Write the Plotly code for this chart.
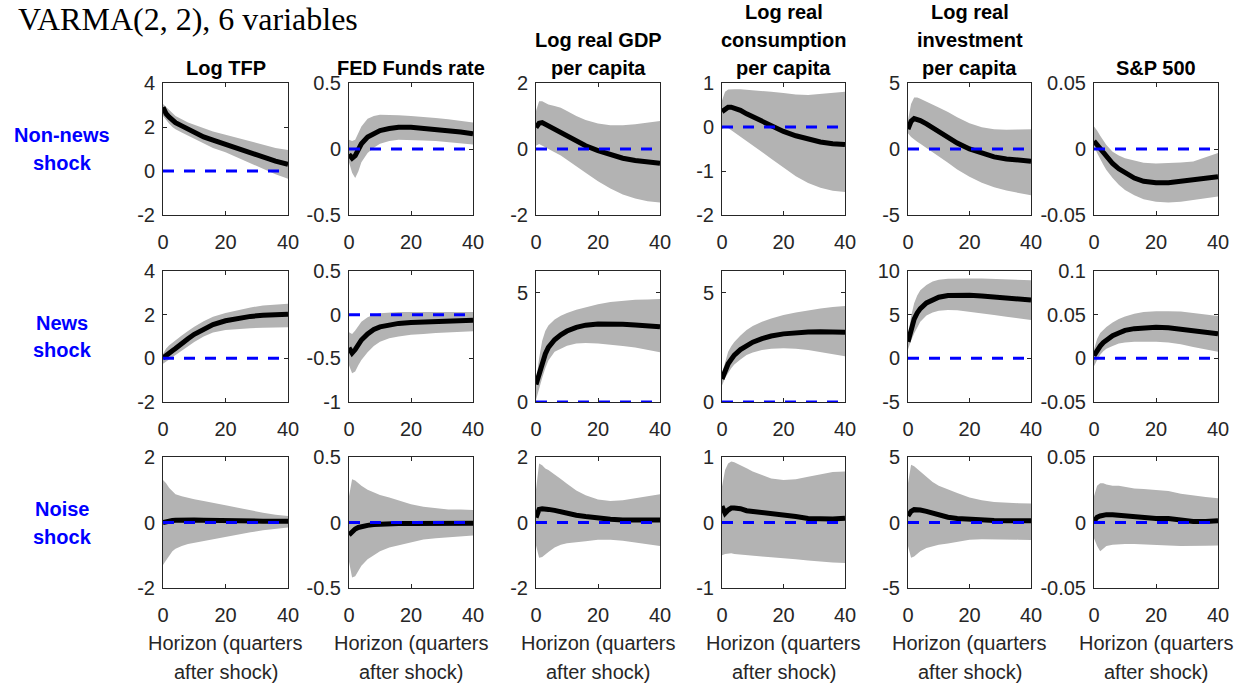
import plotly.graph_objects as go

# ---------------- data ----------------
H = [0, 1, 2, 3, 4, 6, 8, 10, 13, 16, 20, 24, 28, 32, 36, 40]

shocks = ["Non-news<br>shock", "News<br>shock", "Noise<br>shock"]
variables = ["Log TFP", "FED Funds rate", "Log real GDP<br>per capita",
             "Log real<br>consumption<br>per capita",
             "Log real<br>investment<br>per capita", "S&P 500"]

# Non-news shock
nn_tfp_med = [2.9, 2.6, 2.45, 2.3, 2.2, 2.05, 1.9, 1.75, 1.55, 1.4, 1.2, 1.0, 0.8, 0.6, 0.45, 0.3]
nn_tfp_hi = [3.05, 2.9, 2.75, 2.6, 2.5, 2.35, 2.2, 2.1, 1.95, 1.8, 1.65, 1.5, 1.35, 1.2, 1.05, 0.95]
nn_tfp_lo = [2.5, 2.35, 2.15, 2.0, 1.9, 1.75, 1.6, 1.45, 1.25, 1.05, 0.85, 0.6, 0.35, 0.1, -0.15, -0.35]

nn_ffr_med = [-0.04, -0.07, -0.05, 0.0, 0.04, 0.09, 0.12, 0.14, 0.155, 0.165, 0.165, 0.158, 0.148, 0.138, 0.128, 0.115]
nn_ffr_hi = [0.07, 0.06, 0.07, 0.12, 0.17, 0.23, 0.25, 0.26, 0.26, 0.255, 0.25, 0.245, 0.235, 0.225, 0.21, 0.2]
nn_ffr_lo = [-0.1, -0.18, -0.22, -0.17, -0.1, -0.03, 0.01, 0.04, 0.06, 0.07, 0.07, 0.065, 0.06, 0.05, 0.045, 0.035]

nn_gdp_med = [0.65, 0.78, 0.8, 0.75, 0.7, 0.6, 0.5, 0.4, 0.25, 0.1, -0.05, -0.18, -0.28, -0.35, -0.4, -0.43]
nn_gdp_hi = [1.15, 1.45, 1.45, 1.4, 1.35, 1.3, 1.25, 1.15, 1.0, 0.88, 0.77, 0.72, 0.72, 0.75, 0.8, 0.85]
nn_gdp_lo = [0.1, 0.15, 0.12, 0.05, 0.0, -0.1, -0.2, -0.32, -0.52, -0.72, -0.98, -1.2, -1.38, -1.5, -1.58, -1.62]

nn_con_med = [0.35, 0.42, 0.45, 0.45, 0.43, 0.38, 0.3, 0.23, 0.12, 0.02, -0.1, -0.2, -0.28, -0.34, -0.38, -0.4]
nn_con_hi = [0.6, 0.8, 0.85, 0.86, 0.86, 0.86, 0.85, 0.84, 0.82, 0.8, 0.77, 0.74, 0.73, 0.75, 0.78, 0.8]
nn_con_lo = [-0.05, 0.0, -0.02, -0.07, -0.12, -0.22, -0.32, -0.42, -0.57, -0.72, -0.93, -1.12, -1.27, -1.38, -1.45, -1.48]

nn_inv_med = [1.5, 2.1, 2.3, 2.25, 2.15, 1.9, 1.6, 1.3, 0.85, 0.45, 0.0, -0.35, -0.6, -0.75, -0.85, -0.92]
nn_inv_hi = [2.2, 3.4, 3.9, 3.9, 3.8, 3.6, 3.4, 3.15, 2.8, 2.4, 1.95, 1.65, 1.5, 1.45, 1.48, 1.5]
nn_inv_lo = [1.2, 0.9, 0.7, 0.55, 0.4, 0.1, -0.2, -0.55, -1.05, -1.55, -2.1, -2.55, -2.9, -3.15, -3.35, -3.5]

nn_sp_med = [0.006, 0.003, 0.0, -0.003, -0.006, -0.011, -0.015, -0.018, -0.022, -0.0245, -0.0255, -0.0255, -0.0245, -0.0235, -0.0225, -0.021]
nn_sp_hi = [0.017, 0.014, 0.01, 0.006, 0.003, -0.002, -0.005, -0.007, -0.009, -0.0105, -0.011, -0.0108, -0.0102, -0.0095, -0.006, -0.003]
nn_sp_lo = [0.002, -0.003, -0.008, -0.012, -0.016, -0.022, -0.027, -0.031, -0.035, -0.038, -0.04, -0.0405, -0.04, -0.039, -0.0375, -0.036]

# News shock
ne_tfp_med = [0.02, 0.15, 0.25, 0.35, 0.45, 0.7, 0.9, 1.1, 1.35, 1.55, 1.72, 1.84, 1.92, 1.97, 2.0, 2.02]
ne_tfp_hi = [0.2, 0.45, 0.6, 0.72, 0.85, 1.05, 1.25, 1.45, 1.7, 1.9, 2.08, 2.22, 2.33, 2.42, 2.47, 2.5]
ne_tfp_lo = [-0.25, -0.15, -0.05, 0.05, 0.15, 0.35, 0.55, 0.75, 1.0, 1.18, 1.3, 1.35, 1.38, 1.4, 1.42, 1.42]

ne_ffr_med = [-0.38, -0.44, -0.4, -0.34, -0.29, -0.22, -0.17, -0.14, -0.12, -0.1, -0.09, -0.085, -0.08, -0.075, -0.07, -0.065]
ne_ffr_hi = [-0.2, -0.22, -0.18, -0.13, -0.08, -0.03, 0.0, 0.015, 0.025, 0.03, 0.03, 0.03, 0.03, 0.03, 0.03, 0.03]
ne_ffr_lo = [-0.58, -0.67, -0.65, -0.58, -0.52, -0.43, -0.36, -0.31, -0.27, -0.25, -0.23, -0.22, -0.21, -0.2, -0.195, -0.19]

ne_gdp_med = [0.8, 1.3, 1.8, 2.2, 2.5, 2.85, 3.08, 3.25, 3.42, 3.52, 3.57, 3.58, 3.56, 3.53, 3.49, 3.45]
ne_gdp_hi = [0.9, 2.0, 2.8, 3.25, 3.5, 3.78, 3.95, 4.08, 4.23, 4.35, 4.48, 4.58, 4.64, 4.68, 4.7, 4.72]
ne_gdp_lo = [0.1, 0.6, 1.1, 1.55, 1.9, 2.3, 2.45, 2.58, 2.68, 2.7, 2.68, 2.63, 2.57, 2.5, 2.4, 2.28]

ne_con_med = [1.05, 1.45, 1.75, 1.95, 2.15, 2.4, 2.6, 2.74, 2.9, 3.02, 3.12, 3.18, 3.21, 3.22, 3.21, 3.2]
ne_con_hi = [1.3, 1.85, 2.3, 2.55, 2.75, 3.05, 3.3, 3.48, 3.68, 3.82, 3.98, 4.1, 4.2, 4.28, 4.35, 4.4]
ne_con_lo = [0.75, 1.1, 1.35, 1.55, 1.72, 1.95, 2.15, 2.27, 2.38, 2.44, 2.46, 2.44, 2.38, 2.3, 2.2, 2.1]

ne_inv_med = [1.9, 3.4, 4.5, 5.2, 5.7, 6.35, 6.75, 7.0, 7.2, 7.25, 7.22, 7.15, 7.05, 6.92, 6.8, 6.68]
ne_inv_hi = [2.4, 4.8, 6.3, 7.2, 7.8, 8.4, 8.8, 9.0, 9.1, 9.15, 9.15, 9.15, 9.12, 9.08, 9.02, 8.95]
ne_inv_lo = [1.0, 2.0, 2.85, 3.6, 4.2, 4.9, 5.25, 5.45, 5.53, 5.5, 5.35, 5.15, 4.95, 4.75, 4.55, 4.4]

ne_sp_med = [0.003, 0.009, 0.014, 0.018, 0.021, 0.026, 0.029, 0.032, 0.034, 0.035, 0.0355, 0.035, 0.0335, 0.032, 0.03, 0.028]
ne_sp_hi = [0.01, 0.022, 0.029, 0.033, 0.036, 0.041, 0.045, 0.048, 0.051, 0.053, 0.054, 0.054, 0.0535, 0.052, 0.0505, 0.0485]
ne_sp_lo = [-0.009, -0.002, 0.004, 0.008, 0.011, 0.014, 0.017, 0.018, 0.019, 0.019, 0.019, 0.018, 0.016, 0.013, 0.01, 0.0075]

# Noise shock
no_tfp_med = [0.0, 0.03, 0.05, 0.06, 0.07, 0.08, 0.08, 0.08, 0.07, 0.06, 0.05, 0.05, 0.04, 0.04, 0.04, 0.04]
no_tfp_hi = [1.3, 1.2, 1.05, 0.95, 0.86, 0.8, 0.75, 0.71, 0.66, 0.61, 0.53, 0.45, 0.37, 0.3, 0.24, 0.2]
no_tfp_lo = [-1.3, -1.15, -1.0, -0.88, -0.8, -0.72, -0.66, -0.62, -0.57, -0.52, -0.44, -0.37, -0.3, -0.24, -0.19, -0.15]

no_ffr_med = [-0.095, -0.07, -0.05, -0.038, -0.03, -0.022, -0.016, -0.012, -0.01, -0.008, -0.007, -0.006, -0.006, -0.006, -0.006, -0.006]
no_ffr_hi = [0.2, 0.33, 0.32, 0.3, 0.28, 0.25, 0.23, 0.21, 0.19, 0.17, 0.14, 0.12, 0.11, 0.1, 0.1, 0.095]
no_ffr_lo = [-0.3, -0.42, -0.41, -0.37, -0.33, -0.28, -0.25, -0.22, -0.19, -0.17, -0.15, -0.13, -0.12, -0.11, -0.105, -0.1]

no_gdp_med = [0.15, 0.4, 0.42, 0.42, 0.4, 0.37, 0.32, 0.27, 0.22, 0.18, 0.13, 0.1, 0.08, 0.08, 0.08, 0.08]
no_gdp_hi = [1.0, 1.8, 1.75, 1.65, 1.6, 1.47, 1.33, 1.18, 0.98, 0.83, 0.7, 0.66, 0.68, 0.74, 0.8, 0.86]
no_gdp_lo = [-0.7, -1.08, -1.05, -0.98, -0.9, -0.76, -0.68, -0.63, -0.6, -0.57, -0.53, -0.53, -0.56, -0.6, -0.66, -0.72]

no_con_med = [0.25, 0.14, 0.19, 0.22, 0.22, 0.21, 0.18, 0.17, 0.16, 0.14, 0.11, 0.09, 0.06, 0.05, 0.055, 0.065]
no_con_hi = [0.55, 0.8, 0.9, 0.93, 0.92, 0.88, 0.83, 0.78, 0.72, 0.67, 0.65, 0.66, 0.7, 0.74, 0.77, 0.78]
no_con_lo = [-0.5, -0.48, -0.47, -0.47, -0.48, -0.49, -0.5, -0.51, -0.52, -0.53, -0.55, -0.56, -0.58, -0.6, -0.61, -0.62]

no_inv_med = [0.5, 0.85, 0.98, 1.0, 0.95, 0.85, 0.7, 0.55, 0.4, 0.3, 0.23, 0.18, 0.15, 0.14, 0.14, 0.14]
no_inv_hi = [3.0, 4.4, 4.3, 4.1, 3.9, 3.45, 3.1, 2.8, 2.5, 2.25, 1.9, 1.7, 1.57, 1.5, 1.47, 1.45]
no_inv_lo = [-1.8, -2.7, -2.6, -2.4, -2.2, -1.95, -1.8, -1.7, -1.6, -1.5, -1.32, -1.27, -1.27, -1.29, -1.31, -1.34]

no_sp_med = [0.001, 0.004, 0.005, 0.0055, 0.006, 0.006, 0.0055, 0.005, 0.0045, 0.0035, 0.003, 0.003, 0.0018, 0.0008, 0.0008, 0.0013]
no_sp_hi = [0.02, 0.028, 0.03, 0.03, 0.029, 0.028, 0.028, 0.027, 0.026, 0.0255, 0.025, 0.024, 0.022, 0.0205, 0.0195, 0.0185]
no_sp_lo = [-0.012, -0.018, -0.022, -0.02, -0.018, -0.017, -0.0165, -0.0165, -0.0165, -0.017, -0.017, -0.0175, -0.018, -0.018, -0.0178, -0.0175]

# axis limits and tick labels per panel
y_ranges = [
    [[-2, 4], [-0.5, 0.5], [-2, 2], [-2, 1], [-5, 5], [-0.05, 0.05]],
    [[-2, 4], [-1, 0.5], [0, 6], [0, 6], [-5, 10], [-0.05, 0.1]],
    [[-2, 2], [-0.5, 0.5], [-2, 2], [-1, 1], [-5, 5], [-0.05, 0.05]],
]
y_ticks = [
    [[-2, 0, 2, 4], [-0.5, 0, 0.5], [-2, 0, 2], [-2, -1, 0, 1], [-5, 0, 5], [-0.05, 0, 0.05]],
    [[-2, 0, 2, 4], [-1, -0.5, 0, 0.5], [0, 5], [0, 5], [-5, 0, 5, 10], [-0.05, 0, 0.05, 0.1]],
    [[-2, 0, 2], [-0.5, 0, 0.5], [-2, 0, 2], [-1, 0, 1], [-5, 0, 5], [-0.05, 0, 0.05]],
]
x_ticks = [0, 20, 40]

panels = [
    [(nn_tfp_med, nn_tfp_lo, nn_tfp_hi), (nn_ffr_med, nn_ffr_lo, nn_ffr_hi), (nn_gdp_med, nn_gdp_lo, nn_gdp_hi),
     (nn_con_med, nn_con_lo, nn_con_hi), (nn_inv_med, nn_inv_lo, nn_inv_hi), (nn_sp_med, nn_sp_lo, nn_sp_hi)],
    [(ne_tfp_med, ne_tfp_lo, ne_tfp_hi), (ne_ffr_med, ne_ffr_lo, ne_ffr_hi), (ne_gdp_med, ne_gdp_lo, ne_gdp_hi),
     (ne_con_med, ne_con_lo, ne_con_hi), (ne_inv_med, ne_inv_lo, ne_inv_hi), (ne_sp_med, ne_sp_lo, ne_sp_hi)],
    [(no_tfp_med, no_tfp_lo, no_tfp_hi), (no_ffr_med, no_ffr_lo, no_ffr_hi), (no_gdp_med, no_gdp_lo, no_gdp_hi),
     (no_con_med, no_con_lo, no_con_hi), (no_inv_med, no_inv_lo, no_inv_hi), (no_sp_med, no_sp_lo, no_sp_hi)],
]

# ---------------- layout ----------------
W, HGT = 1250, 687
col_px = [(163, 288), (349, 473), (536, 660), (722, 845), (908, 1031), (1094, 1218)]
row_px = [(83, 215), (271, 402), (457, 588)]

SANS = "Liberation Sans, Arial, Helvetica, sans-serif"
AXC = "#262626"
FS = 20


def fmt(v):
    return "%g" % v


fig = go.Figure()
layout = dict(width=W, height=HGT, margin=dict(l=0, r=0, t=0, b=0, pad=0, autoexpand=False),
              paper_bgcolor="white", plot_bgcolor="white", showlegend=False,
              template="none")

annotations = []
k = 0
for r in range(3):
    for c in range(6):
        k += 1
        xa = "x" if k == 1 else "x%d" % k
        ya = "y" if k == 1 else "y%d" % k
        xname = "xaxis" if k == 1 else "xaxis%d" % k
        yname = "yaxis" if k == 1 else "yaxis%d" % k
        med, lo, hi = panels[r][c]
        fig.add_trace(go.Scatter(x=H + H[::-1], y=hi + lo[::-1], fill="toself",
                                 fillcolor="#b3b3b3", line=dict(width=0),
                                 mode="lines", hoverinfo="skip", xaxis=xa, yaxis=ya))
        fig.add_trace(go.Scatter(x=H, y=med, mode="lines",
                                 line=dict(color="black", width=5), xaxis=xa, yaxis=ya))
        fig.add_trace(go.Scatter(x=[H[0], H[-1]], y=[0, 0], mode="lines",
                                 line=dict(color="#0000ff", width=3, dash="11px,10px"),
                                 xaxis=xa, yaxis=ya))
        x0, x1 = col_px[c]
        y0, y1 = row_px[r]
        common = dict(ticks="inside", ticklen=4, tickcolor=AXC, tickwidth=1,
                      showline=True, linecolor=AXC, linewidth=1, mirror="ticks",
                      showgrid=False, zeroline=False, automargin=False,
                      layer="below traces",
                      tickfont=dict(family=SANS, size=FS, color=AXC))
        layout[xname] = dict(domain=[x0 / W, x1 / W], range=[0, 40], anchor=ya,
                             tickvals=x_ticks, ticktext=[fmt(v) for v in x_ticks],
                             ticklabelstandoff=9, **common)
        layout[yname] = dict(domain=[1 - y1 / HGT, 1 - y0 / HGT], range=y_ranges[r][c], anchor=xa,
                             tickvals=y_ticks[r][c], ticktext=[fmt(v) for v in y_ticks[r][c]],
                             ticklabelstandoff=3, **common)

# column titles (each line positioned separately)
for c, name in enumerate(variables):
    lines = name.split("<br>")
    cx = (col_px[c][0] + col_px[c][1]) / 2 / W
    n = len(lines)
    for i, ln in enumerate(lines):
        ypix = 68 - (n - 1 - i) * 28
        annotations.append(dict(text="<b>%s</b>" % ln, x=cx, y=1 - ypix / HGT, xref="paper", yref="paper",
                                showarrow=False, xanchor="center", yanchor="middle",
                                font=dict(family=SANS, size=FS, color="black")))

# row labels
for r, name in enumerate(shocks):
    lines = name.split("<br>")
    cy = (row_px[r][0] + row_px[r][1]) / 2
    for i, ln in enumerate(lines):
        ypix = cy - 14 + i * 28
        annotations.append(dict(text="<b>%s</b>" % ln, x=62 / W, y=1 - ypix / HGT, xref="paper", yref="paper",
                                showarrow=False, xanchor="center", yanchor="middle",
                                font=dict(family=SANS, size=FS, color="#0000ff")))

# x-axis labels under the bottom row
for c in range(6):
    cx = (col_px[c][0] + col_px[c][1]) / 2 / W
    for i, ln in enumerate(["Horizon (quarters", "after shock)"]):
        ypix = 643 + i * 29
        annotations.append(dict(text=ln, x=cx, y=1 - ypix / HGT, xref="paper", yref="paper",
                                showarrow=False, xanchor="center", yanchor="middle",
                                font=dict(family=SANS, size=FS, color=AXC)))

# overall title
annotations.append(dict(text="VARMA(2, 2), 6 variables", x=16 / W, y=1 - 19 / HGT, xref="paper", yref="paper",
                        showarrow=False, xanchor="left", yanchor="middle",
                        font=dict(family="Liberation Serif, Times New Roman, serif", size=32, color="black")))

layout["annotations"] = annotations
fig.update_layout(**layout)
fig.write_html("out.html", config={"displayModeBar": False},
               post_script="document.body.style.margin='0';document.body.style.overflow='hidden';")
